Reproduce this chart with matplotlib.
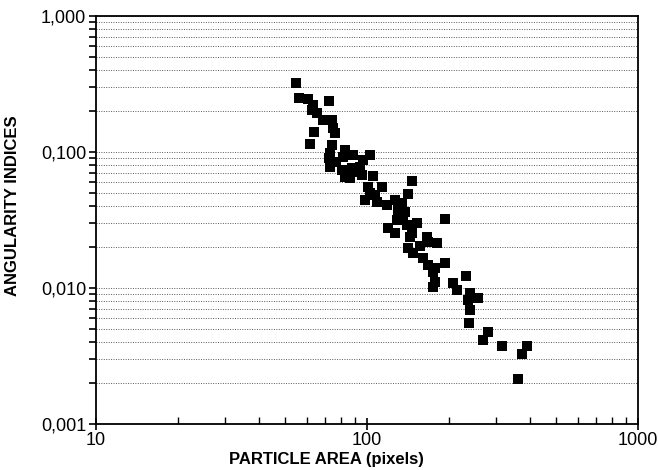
import numpy as np
import matplotlib
matplotlib.use("Agg")
import matplotlib.pyplot as plt
from matplotlib.ticker import FixedLocator, FuncFormatter, LogLocator, NullFormatter

# particle area (pixels) and angularity index
area = [54.7, 56.1, 60.6, 72.4, 63.2, 62.7, 65.4, 68.8, 74.3, 74.9,
        76.2, 63.8, 61.6, 74.3, 73.0, 72.4, 73.0, 82.9, 81.5, 88.8,
        102.6, 96.6, 94.2, 88.0, 80.8, 82.9, 86.6, 95.8, 105.2, 146.6,
        100.9, 113.6, 102.6, 98.3, 108.9, 118.6, 126.9, 141.7, 130.2, 138.1,
        129.0, 119.6, 126.9, 140.5, 153.0, 146.6, 166.5, 134.7, 194.1, 144.1,
        141.7, 147.8, 167.9, 181.2, 160.9, 167.9, 178.2, 194.1, 175.2, 178.2,
        175.2, 207.6, 214.8, 231.9, 239.9, 256.8, 235.9, 239.9, 237.9, 279.6,
        267.9, 314.9, 389.4, 373.3, 360.8, 76.9, 91.1, 107.0, 135.8, 156.9]
angularity = [0.321, 0.250, 0.245, 0.237, 0.222, 0.204, 0.194, 0.172, 0.172, 0.150,
              0.138, 0.140, 0.1145, 0.1125, 0.0983, 0.0903, 0.0776, 0.1035, 0.0918, 0.0951,
              0.0951, 0.0874, 0.0776, 0.0763, 0.0738, 0.0655, 0.0644, 0.0678, 0.0667, 0.0612,
              0.0553, 0.0553, 0.0500, 0.0444, 0.0429, 0.0408, 0.0444, 0.0491, 0.0375, 0.0362,
              0.0316, 0.0276, 0.0254, 0.0291, 0.0301, 0.0254, 0.0237, 0.0422, 0.0322, 0.0237,
              0.0197, 0.0181, 0.0218, 0.0214, 0.0166, 0.0148, 0.0140, 0.0153, 0.0131, 0.0111,
              0.0102, 0.0109, 0.00967, 0.0122, 0.00919, 0.00844, 0.00816, 0.00689, 0.00553, 0.00475,
              0.00415, 0.00375, 0.00375, 0.00327, 0.00214, 0.0844, 0.0713, 0.0483, 0.0327, 0.0204]

x_ticks = [10, 100, 1000]
y_ticks = [0.001, 0.01, 0.1, 1.0]

plt.rcParams['font.family'] = ['Liberation Sans', 'DejaVu Sans']

fig = plt.figure(figsize=(6.58, 4.70), dpi=100)
ax = fig.add_axes([96 / 658, 1 - 424 / 470, (638 - 96) / 658, (424 - 16) / 470])

ax.scatter(area, angularity, marker='s', s=60, color='black', linewidths=0, zorder=3)

ax.set_xscale('log')
ax.set_yscale('log')
ax.set_xlim(10, 1000)
ax.set_ylim(0.001, 1.0)

# y labels with decimal comma
ax.yaxis.set_major_locator(FixedLocator(y_ticks))
ax.yaxis.set_major_formatter(FuncFormatter(lambda v, p: ('%.3f' % v).replace('.', ',')))
ax.yaxis.set_minor_locator(LogLocator(base=10, subs=np.arange(2, 10)))
ax.yaxis.set_minor_formatter(NullFormatter())
ax.xaxis.set_major_locator(FixedLocator(x_ticks))
ax.xaxis.set_major_formatter(FuncFormatter(lambda v, p: '%d' % v))
ax.xaxis.set_minor_locator(LogLocator(base=10, subs=np.arange(2, 10)))
ax.xaxis.set_minor_formatter(NullFormatter())

ax.tick_params(axis='y', which='both', direction='out', length=5, width=1.2, labelsize=13, pad=2)
ax.tick_params(axis='x', which='major', direction='inout', length=8, width=1.2, labelsize=13, pad=2)
ax.tick_params(axis='x', which='minor', direction='in', length=5, width=1.0)

# dotted horizontal grid at every decade step
ax.yaxis.grid(True, which='both', linestyle=(0, (1, 1.5)), color='0.35', linewidth=0.7)
ax.xaxis.grid(False)
ax.set_axisbelow(True)

for sp in ax.spines.values():
    sp.set_linewidth(1.3)
    sp.set_color('black')

ax.set_xlabel('PARTICLE AREA (pixels)', fontsize=12, fontweight='bold')
ax.xaxis.set_label_coords(0.425, -0.068)
ax.set_ylabel('ANGULARITY INDICES', fontsize=12, fontweight='bold')
ax.yaxis.set_label_coords(-0.14, 0.535)

fig.savefig('out.png', dpi=100)
